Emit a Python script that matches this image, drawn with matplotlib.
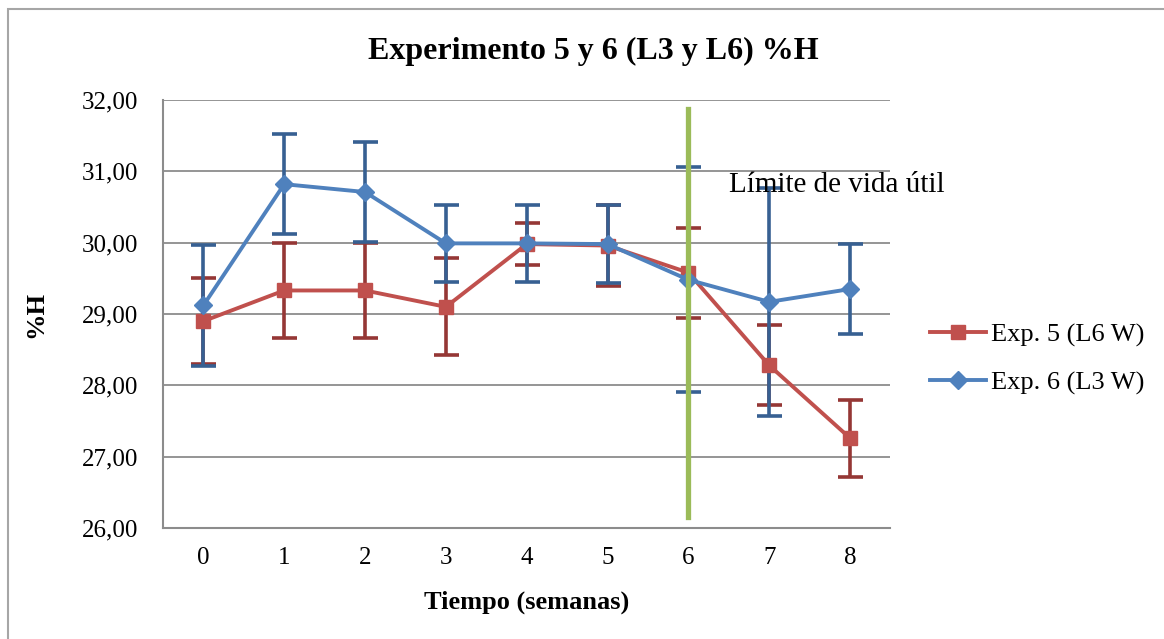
import numpy as np
import matplotlib.pyplot as plt
from matplotlib.patches import Rectangle

plt.rcParams['font.family'] = ['Liberation Serif', 'DejaVu Serif']

# semanas
weeks = [0, 1, 2, 3, 4, 5, 6, 7, 8]

# Exp. 5 (L6 W)
exp5 = [28.90, 29.33, 29.33, 29.10, 29.98, 29.96, 29.58, 28.28, 27.26]
exp5_err = [0.60, 0.67, 0.67, 0.68, 0.30, 0.57, 0.63, 0.56, 0.54]

# Exp. 6 (L3 W)
exp6 = [29.12, 30.82, 30.71, 29.99, 29.99, 29.98, 29.48, 29.17, 29.35]
exp6_err = [0.85, 0.70, 0.70, 0.54, 0.54, 0.55, 1.58, 1.60, 0.63]

limit_week = 6
limit_range = (26.15, 31.88)

red = "#C0504D"
red_dark = "#953735"
blue = "#4F81BD"
blue_dark = "#376092"
green = "#9BBB59"

fig = plt.figure(figsize=(11.64, 6.39), dpi=100)
ax = fig.add_axes([0.140, 0.1737, 0.625, 0.6698])

# outer chart frame
fig.patches.append(Rectangle((8 / 1164, -0.1), 1.2, 1 - 9 / 639 + 0.1,
                             transform=fig.transFigure, fill=False,
                             edgecolor="#A6A6A6", linewidth=1.5))

# error bars drawn first, then the lines on top
ax.errorbar(weeks, exp5, yerr=exp5_err, fmt="none", ecolor=red_dark,
            elinewidth=2.6, capsize=9, capthick=2.6, zorder=3)
ax.errorbar(weeks, exp6, yerr=exp6_err, fmt="none", ecolor=blue_dark,
            elinewidth=2.6, capsize=9, capthick=2.6, zorder=3)

ax.plot(weeks, exp5, color=red, linewidth=2.8, marker="s", markersize=10,
        label="Exp. 5 (L6 W)", zorder=4)
ax.plot(weeks, exp6, color=blue, linewidth=2.8, marker="D", markersize=9,
        label="Exp. 6 (L3 W)", zorder=5)

# limite de vida util
ax.plot([limit_week, limit_week], limit_range, color=green, linewidth=3.8, zorder=6)
ax.text(6.5, 30.81, "Límite de vida útil", fontsize=21, va="center", ha="left",
        zorder=7)

ax.set_xlim(-0.5, 8.5)
ax.set_ylim(26, 32)
ax.set_xticks(weeks)
ax.set_yticks(np.arange(26, 32.01, 1))
ax.set_yticklabels([f"{v:.2f}".replace(".", ",") for v in np.arange(26, 32.01, 1)])
ax.tick_params(axis="both", length=0, labelsize=18)
ax.tick_params(axis="x", pad=14)
ax.tick_params(axis="y", pad=18)

ax.yaxis.grid(True, color="#8C8C8C", linewidth=1.3)
ax.set_axisbelow(True)
for s in ["top", "right"]:
    ax.spines[s].set_visible(False)
for s in ["left", "bottom"]:
    ax.spines[s].set_color("#8C8C8C")
    ax.spines[s].set_linewidth(1.5)

fig.text(0.510, 1 - 51 / 639, "Experimento 5 y 6 (L3 y L6) %H", fontsize=23,
         fontweight="bold", ha="center", va="center")
ax.set_xlabel("Tiempo (semanas)", fontsize=19, fontweight="bold", labelpad=15)
ax.set_ylabel("%H", fontsize=19, fontweight="bold", labelpad=25)

ax.legend(loc="center left", bbox_to_anchor=(1.055, 0.395), frameon=False,
          fontsize=19, handlelength=2.1, handletextpad=0.2, labelspacing=0.9,
          borderpad=0, borderaxespad=0)

fig.savefig("out.png", dpi=100)
